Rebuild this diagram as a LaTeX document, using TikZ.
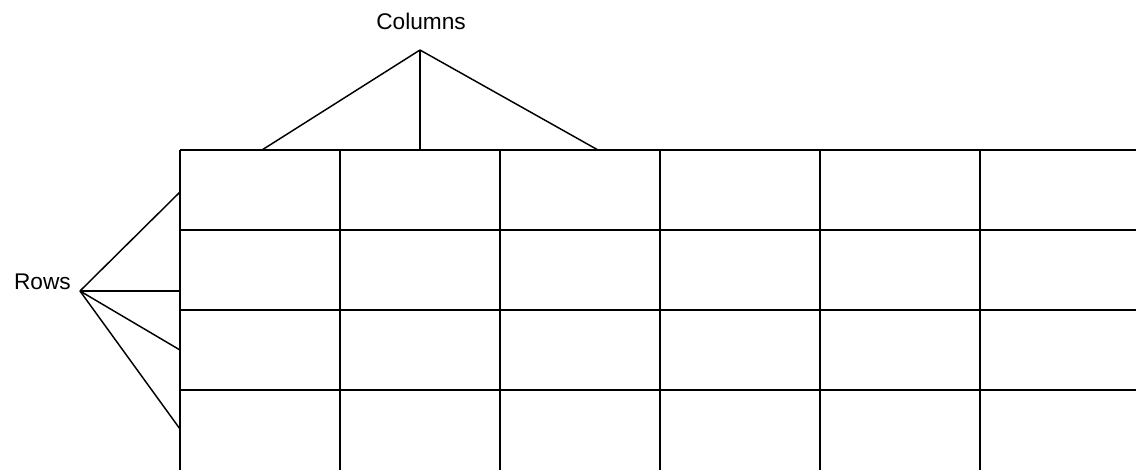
\documentclass[tikz,border=0pt]{standalone}
\usepackage{fontspec}
\setmainfont{Liberation Sans}

\begin{document}
\begin{tikzpicture}[x=0.75pt, y=-0.75pt,
    grid/.style = {draw, line width=1.3pt},
    link/.style = {draw, line width=1.1pt, line join=round},
    tag/.style = {font=\fontsize{17}{20}\selectfont, inner sep=0pt}]
  \useasboundingbox (0,0) rectangle (1136,470);
  \clip (0,0) rectangle (1136,470);

  % table cells, running off the right and bottom edges
  \foreach \x in {180,340,...,980}
    \draw[grid] (\x,150) -- (\x,470);
  \foreach \y in {150,230,...,390}
    \draw[grid] (180,\y) -- (1136,\y);

  % labels
  \node[tag, anchor=base] (cols) at (421,30) {Columns};
  \node[tag, anchor=base east] (rows) at (71,290) {Rows};

  \coordinate (colsTip) at (420,50);
  \coordinate (rowsTip) at (80,291);

  \coordinate (c1) at (262,150);
  \coordinate (c2) at (420,150);
  \coordinate (c3) at (598,150);

  \coordinate (r1) at (180,192);
  \coordinate (r2) at (180,291);
  \coordinate (r3) at (180,350);
  \coordinate (r4) at (180,429);

  \foreach \c in {c1,c2,c3}
    \draw[link] (colsTip) -- (\c);
  \foreach \r in {r1,r2,r3,r4}
    \draw[link] (rowsTip) -- (\r);
\end{tikzpicture}
\end{document}
